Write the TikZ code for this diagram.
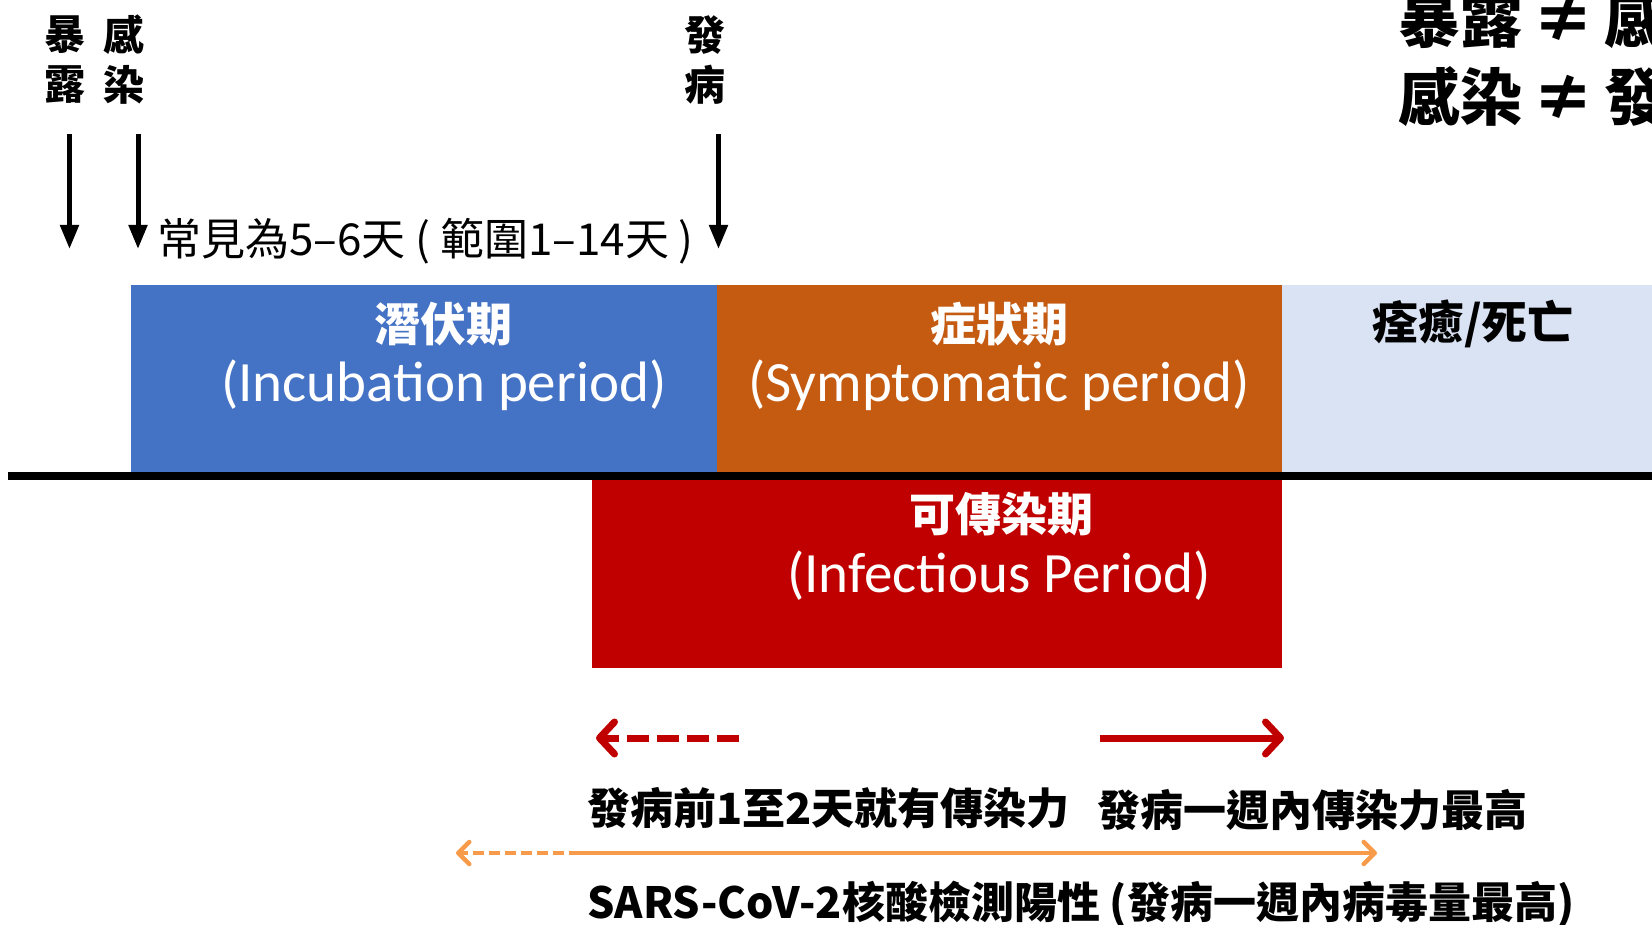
\documentclass[tikz,border=0pt]{standalone}
\usepackage{fontspec}
\setmainfont{Noto Sans CJK TC}
\newfontfamily\lat{Carlito}
\usetikzlibrary{arrows.meta}
\definecolor{incub}{HTML}{4472C4}
\definecolor{sympt}{HTML}{C55A11}
\definecolor{recov}{HTML}{DAE3F3}
\definecolor{infect}{HTML}{C00000}
\definecolor{pcr}{HTML}{F79A4A}
\tikzset{
  box/.style={rectangle, inner sep=0pt, outer sep=0pt, anchor=north west},
  vlabel/.style={inner sep=0pt, align=center, font=\fontsize{41}{50}\selectfont\bfseries},
  cjkhead/.style={inner sep=0pt, font=\fontsize{46}{50}\selectfont\bfseries},
  enghead/.style={inner sep=0pt, text=white, font=\lat\fontsize{57}{60}\selectfont},
  note/.style={inner sep=0pt, anchor=west, font=\fontsize{43}{48}\selectfont\bfseries},
  blackarrow/.style={line width=5pt, -{Triangle[length=24pt,width=18pt]}},
  redarrow/.style={infect, line width=7pt, -{Straight Barb[round,length=15pt,width=32pt]}},
  orangearrow/.style={pcr, line width=4.5pt},
  orangehead/.style={-{Straight Barb[round,length=11pt,width=22pt]}},
}
\begin{document}
\begin{tikzpicture}[x=1pt,y=-1pt]
\useasboundingbox (0,0) rectangle (1652,925);
\clip (0,0) rectangle (1652,925);

% phase boxes
\node[box, fill=incub, minimum width=586pt, minimum height=192pt] (incub) at (131,285) {};
\node[box, fill=sympt, minimum width=565pt, minimum height=192pt] (sympt) at (717,285) {};
\node[box, fill=recov, minimum width=390pt, minimum height=192pt] (recov) at (1282,285) {};
\node[box, fill=infect, minimum width=690pt, minimum height=190pt] (infect) at (592,478) {};

% time axis
\coordinate (axisL) at (8,476);
\coordinate (axisR) at (1660,476);
\draw[line width=7.5pt] (axisL) -- (axisR);

% box texts
\node[cjkhead, text=white] (incubzh) at (443,324) {潛伏期};
\node[enghead] (incuben) at (444,385) {(Incubation period)};
\node[cjkhead, text=white] (symptzh) at (999,324) {症狀期};
\node[enghead] (sympten) at (999,385) {(Symptomatic period)};
\node[cjkhead] (recovzh) at (1473,324) {痊癒/死亡};
\node[cjkhead, text=white] (infectzh) at (1001,514) {可傳染期};
\node[enghead] (infecten) at (999,576) {(Infectious Period)};

% event labels
\node[vlabel] (expo) at (65,60) {暴\\露};
\node[vlabel] (infe) at (124,60) {感\\染};
\node[vlabel] (onset) at (705,60) {發\\病};

\coordinate (expoS) at (69.5,134);
\coordinate (expoE) at (69.5,249);
\coordinate (infeS) at (138,134);
\coordinate (infeE) at (138,249);
\coordinate (onsetS) at (718.5,134);
\coordinate (onsetE) at (718.5,249);
\draw[blackarrow] (expoS) -- (expoE);
\draw[blackarrow] (infeS) -- (infeE);
\draw[blackarrow] (onsetS) -- (onsetE);

\node[inner sep=0pt, anchor=west, font=\fontsize{44}{48}\selectfont] (range) at (157,241) {常見為5–6天 ( 範圍1–14天 )};

% top-right note
\node[inner sep=0pt, anchor=west, font=\fontsize{62}{66}\selectfont\bfseries] (neq1) at (1398,19) {暴露\hspace{10pt}≠\hspace{10pt}感};
\node[inner sep=0pt, anchor=west, font=\fontsize{62}{66}\selectfont\bfseries] (neq2) at (1398,97) {感染\hspace{10pt}≠\hspace{10pt}發};

% infectious arrows
\coordinate (preS) at (739,738);
\coordinate (preE) at (596,738);
\coordinate (postS) at (1100,738);
\coordinate (postE) at (1284,738);
\draw[redarrow, dash pattern=on 22pt off 8pt] (preS) -- (preE);
\draw[redarrow] (postS) -- (postE);

\node[note] (pretext) at (587,808) {發病前1至2天就有傳染力};
\node[note] (posttext) at (1097,810) {發病一週內傳染力最高};

% PCR arrow
\coordinate (pcrL) at (456,853);
\coordinate (pcrM) at (580,853);
\coordinate (pcrR) at (1377,853);
\draw[orangearrow, dash pattern=on 11pt off 5pt, orangehead] (pcrM) -- (pcrL);
\draw[orangearrow, orangehead] (pcrM) -- (pcrR);

\node[note] (pcrtext) at (587,904) {SARS-CoV-2核酸檢測陽性 (發病一週內病毒量最高)};
\end{tikzpicture}
\end{document}
